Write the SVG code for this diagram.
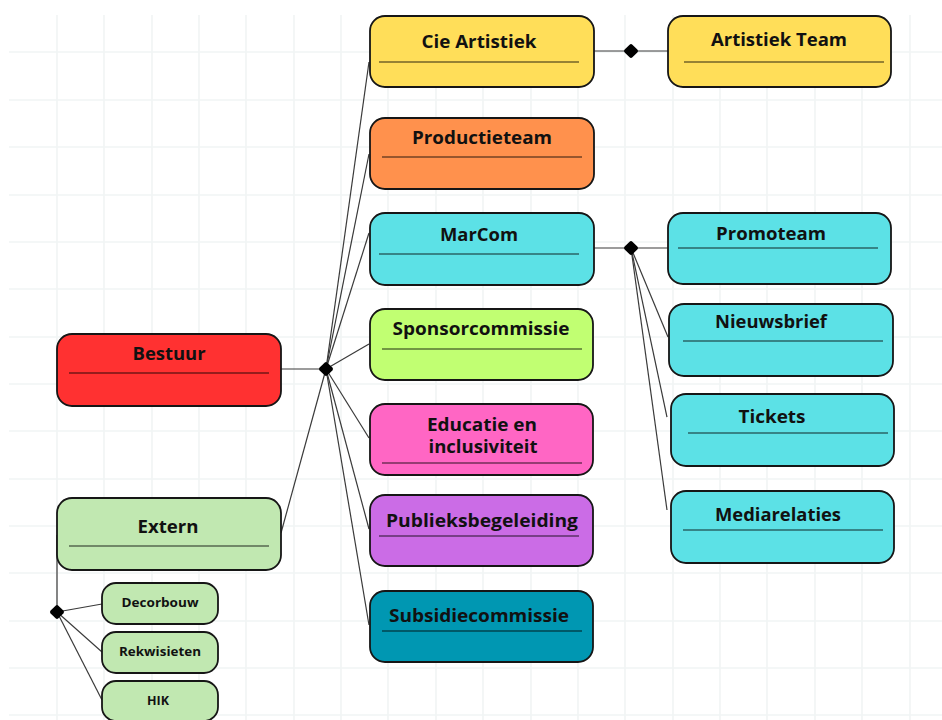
<svg xmlns="http://www.w3.org/2000/svg" width="942" height="720" viewBox="0 0 942 720">
<defs>
<style>
.bx{stroke:#161616;stroke-width:1.8}
.dv{stroke:#000;stroke-opacity:0.55;stroke-width:1.3}
.t{font-family:"Open Sans","Liberation Sans",sans-serif;font-weight:700;font-size:17.5px;fill:#111;text-anchor:middle}
.ts{font-family:"Open Sans","Liberation Sans",sans-serif;font-weight:700;font-size:13px;fill:#111;text-anchor:middle}
.cn line,.cn polyline{stroke:#3a3a3a;stroke-width:1.2;fill:none}
.grid line{stroke:#f1f4f4;stroke-width:1.6}
.yel{fill:#ffde59}.org{fill:#ff914d}.cya{fill:#5ce1e6}.lim{fill:#c1ff72}.pnk{fill:#ff66c4}.pur{fill:#cb6ce6}.tea{fill:#0097b2}.red{fill:#ff3131}.grn{fill:#c1e8b1}
</style>
<rect id="dia" x="-5.5" y="-5.5" width="11" height="11" rx="2" transform="rotate(45)" fill="#000"/>
</defs>
<rect width="942" height="720" fill="#fff"/>
<g class="grid">
<line x1="9" y1="52" x2="942" y2="52"/><line x1="9" y1="100" x2="942" y2="100"/><line x1="9" y1="147" x2="942" y2="147"/><line x1="9" y1="195" x2="942" y2="195"/><line x1="9" y1="242" x2="942" y2="242"/><line x1="9" y1="289" x2="942" y2="289"/><line x1="9" y1="337" x2="942" y2="337"/><line x1="9" y1="384" x2="942" y2="384"/><line x1="9" y1="431" x2="942" y2="431"/><line x1="9" y1="479" x2="942" y2="479"/><line x1="9" y1="526" x2="942" y2="526"/><line x1="9" y1="573" x2="942" y2="573"/><line x1="9" y1="621" x2="942" y2="621"/><line x1="9" y1="668" x2="942" y2="668"/><line x1="9" y1="715" x2="942" y2="715"/>
<line x1="57" y1="15" x2="57" y2="720"/><line x1="104" y1="15" x2="104" y2="720"/><line x1="152" y1="15" x2="152" y2="720"/><line x1="199" y1="15" x2="199" y2="720"/><line x1="246" y1="15" x2="246" y2="720"/><line x1="294" y1="15" x2="294" y2="720"/><line x1="341" y1="15" x2="341" y2="720"/><line x1="388" y1="15" x2="388" y2="720"/><line x1="436" y1="15" x2="436" y2="720"/><line x1="483" y1="15" x2="483" y2="720"/><line x1="531" y1="15" x2="531" y2="720"/><line x1="578" y1="15" x2="578" y2="720"/><line x1="625" y1="15" x2="625" y2="720"/><line x1="673" y1="15" x2="673" y2="720"/><line x1="720" y1="15" x2="720" y2="720"/><line x1="767" y1="15" x2="767" y2="720"/><line x1="815" y1="15" x2="815" y2="720"/><line x1="862" y1="15" x2="862" y2="720"/><line x1="910" y1="15" x2="910" y2="720"/>
</g>
<g id="connectors" class="cn">
<line x1="281" y1="369" x2="326" y2="369"/>
<line x1="326" y1="369" x2="369" y2="62"/>
<line x1="326" y1="369" x2="369" y2="154"/>
<line x1="326" y1="369" x2="369" y2="233"/>
<line x1="326" y1="369" x2="369" y2="344"/>
<line x1="326" y1="369" x2="369" y2="438"/>
<line x1="326" y1="369" x2="369" y2="529"/>
<line x1="326" y1="369" x2="369" y2="625"/>
<line x1="326" y1="369" x2="281" y2="533"/>
<line x1="594" y1="51" x2="668" y2="51"/>
<line x1="594" y1="248" x2="668" y2="248"/>
<line x1="631" y1="248" x2="668" y2="337"/>
<line x1="631" y1="248" x2="667" y2="417"/>
<line x1="631" y1="248" x2="667" y2="510"/>
<line x1="57" y1="535" x2="57" y2="612"/>
<line x1="57" y1="612" x2="102" y2="604"/>
<line x1="57" y1="612" x2="102" y2="652"/>
<line x1="57" y1="612" x2="102" y2="700"/>
<use href="#dia" x="326" y="369"/>
<use href="#dia" x="631" y="51"/>
<use href="#dia" x="631" y="248"/>
<use href="#dia" x="57" y="612"/>
</g>
<g id="bestuur"><rect class="bx red" x="57" y="334" width="224" height="72" rx="15"/><line class="dv" x1="69" y1="373" x2="269" y2="373"/><text class="t" x="169" y="360" textLength="73" lengthAdjust="spacingAndGlyphs">Bestuur</text></g>
<g id="extern"><rect class="bx grn" x="57" y="498" width="224" height="72" rx="15"/><line class="dv" x1="69" y1="546" x2="269" y2="546"/><text class="t" x="168" y="533" textLength="61" lengthAdjust="spacingAndGlyphs">Extern</text></g>
<g id="decorbouw"><rect class="bx grn" x="102" y="583" width="116" height="41" rx="14"/><text class="ts" x="160" y="607" textLength="77" lengthAdjust="spacingAndGlyphs">Decorbouw</text></g>
<g id="rekwisieten"><rect class="bx grn" x="102" y="632" width="116" height="41" rx="14"/><text class="ts" x="160" y="656" textLength="82" lengthAdjust="spacingAndGlyphs">Rekwisieten</text></g>
<g id="hik"><rect class="bx grn" x="102" y="681" width="116" height="40" rx="14"/><text class="ts" x="158" y="705" textLength="22" lengthAdjust="spacingAndGlyphs">HIK</text></g>
<g id="cie-artistiek"><rect class="bx yel" x="370" y="16" width="224" height="71" rx="15"/><line class="dv" x1="379" y1="62" x2="579" y2="62"/><text class="t" x="479" y="48" textLength="115" lengthAdjust="spacingAndGlyphs">Cie Artistiek</text></g>
<g id="productieteam"><rect class="bx org" x="370" y="118" width="224" height="71" rx="15"/><line class="dv" x1="382" y1="157" x2="582" y2="157"/><text class="t" x="482" y="144" textLength="140" lengthAdjust="spacingAndGlyphs">Productieteam</text></g>
<g id="marcom"><rect class="bx cya" x="370" y="213" width="224" height="72" rx="15"/><line class="dv" x1="379" y1="254" x2="579" y2="254"/><text class="t" x="479" y="241" textLength="78" lengthAdjust="spacingAndGlyphs">MarCom</text></g>
<g id="sponsorcommissie"><rect class="bx lim" x="370" y="309" width="223" height="71" rx="15"/><line class="dv" x1="382" y1="349" x2="582" y2="349"/><text class="t" x="481" y="335" textLength="177" lengthAdjust="spacingAndGlyphs">Sponsorcommissie</text></g>
<g id="educatie"><rect class="bx pnk" x="370" y="404" width="223" height="71" rx="15"/><line class="dv" x1="382" y1="463" x2="582" y2="463"/><text class="t" x="482" y="431" textLength="110" lengthAdjust="spacingAndGlyphs">Educatie en</text><text class="t" x="483" y="453" textLength="109" lengthAdjust="spacingAndGlyphs">inclusiviteit</text></g>
<g id="publieksbegeleiding"><rect class="bx pur" x="370" y="495" width="223" height="71" rx="15"/><line class="dv" x1="379" y1="536" x2="579" y2="536"/><text class="t" x="482" y="527" textLength="192" lengthAdjust="spacingAndGlyphs">Publieksbegeleiding</text></g>
<g id="subsidiecommissie"><rect class="bx tea" x="370" y="591" width="223" height="71" rx="15"/><line class="dv" x1="382" y1="631" x2="582" y2="631"/><text class="t" x="479" y="622" textLength="180" lengthAdjust="spacingAndGlyphs">Subsidiecommissie</text></g>
<g id="artistiek-team"><rect class="bx yel" x="668" y="16" width="223" height="71" rx="15"/><line class="dv" x1="684" y1="62" x2="884" y2="62"/><text class="t" x="779" y="46" textLength="136" lengthAdjust="spacingAndGlyphs">Artistiek Team</text></g>
<g id="promoteam"><rect class="bx cya" x="668" y="213" width="223" height="71" rx="15"/><line class="dv" x1="678" y1="248" x2="878" y2="248"/><text class="t" x="771" y="240" textLength="110" lengthAdjust="spacingAndGlyphs">Promoteam</text></g>
<g id="nieuwsbrief"><rect class="bx cya" x="669" y="304" width="224" height="72" rx="15"/><line class="dv" x1="683" y1="341" x2="883" y2="341"/><text class="t" x="771" y="328" textLength="112" lengthAdjust="spacingAndGlyphs">Nieuwsbrief</text></g>
<g id="tickets"><rect class="bx cya" x="671" y="394" width="223" height="72" rx="15"/><line class="dv" x1="688" y1="433" x2="888" y2="433"/><text class="t" x="772" y="423" textLength="67" lengthAdjust="spacingAndGlyphs">Tickets</text></g>
<g id="mediarelaties"><rect class="bx cya" x="671" y="491" width="223" height="72" rx="15"/><line class="dv" x1="683" y1="530" x2="883" y2="530"/><text class="t" x="778" y="521" textLength="126" lengthAdjust="spacingAndGlyphs">Mediarelaties</text></g>
</svg>
